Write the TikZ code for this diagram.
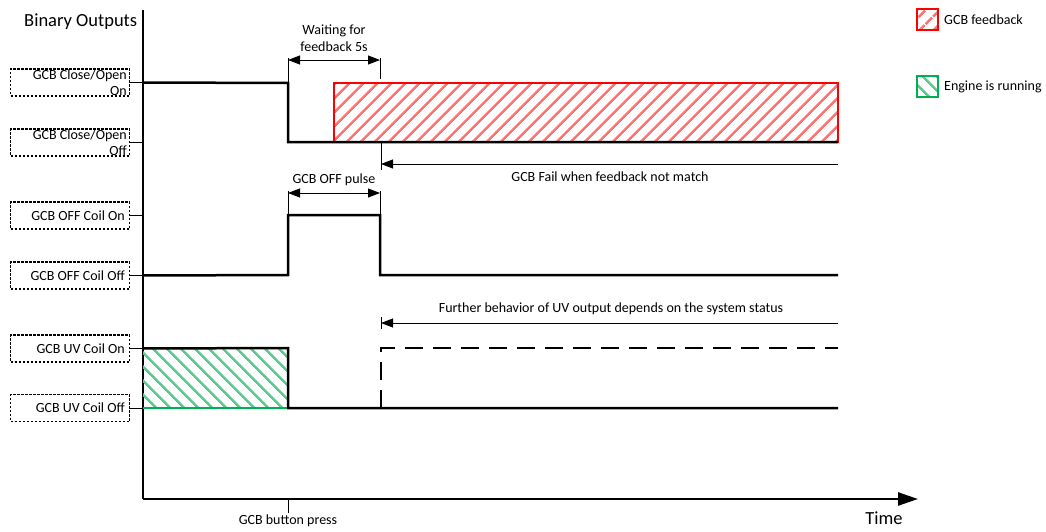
\documentclass[tikz,border=0pt]{standalone}
\usepackage{fontspec}
\setmainfont{Carlito}
\usetikzlibrary{arrows.meta,patterns.meta}
\definecolor{offgreen}{RGB}{0,176,80}
\begin{document}
\begin{tikzpicture}[x=1pt,y=-1pt,
 lblbox/.style={draw, dash pattern=on 2.5pt off 1.5pt, line width=1.3pt, minimum width=119pt, minimum height=27pt, inner sep=0pt, anchor=west},
 lbltext/.style={font=\fontsize{14}{16}\selectfont, align=right, anchor=east, inner sep=0pt},
 sig/.style={line width=2.5pt, line join=miter},
 dim/.style={line width=0.8pt},
 dimarr/.style={line width=0.8pt, {Triangle[length=12pt,width=9pt]}-{Triangle[length=12pt,width=9pt]}},
 txt/.style={font=\fontsize{14}{17}\selectfont, align=center, inner sep=0pt},
 bigtxt/.style={font=\fontsize{18.5}{20}\selectfont, inner sep=0pt},
 redhatch/.style={draw=red, line width=1.2pt, pattern={Lines[angle=45,distance=10.5pt,line width=2.6pt]}, pattern color=red!55},
 greenhatch/.style={pattern={Lines[angle=-45,distance=10.5pt,line width=2.6pt]}, pattern color=offgreen!65},
]
\useasboundingbox (0,0) rectangle (1046,532);

% axes
\coordinate (O) at (143,499);
\coordinate (Ytop) at (143,10);
\coordinate (Xend) at (918,499);
\draw[line width=2.3pt] (Ytop) -- (O);
\draw[line width=2.5pt, -{Triangle[length=20pt,width=13pt]}] (O) -- (Xend);
\node[bigtxt, anchor=west] (title) at (24,22) {Binary Outputs};
\node[bigtxt] (time) at (884,518) {Time};

% label boxes
\node[lblbox] (b1) at (10,82.5) {};
\node[lblbox] (b2) at (10,142.5) {};
\node[lblbox] (b3) at (10,215.5) {};
\node[lblbox] (b4) at (10,275.5) {};
\node[lblbox] (b5) at (10,348.5) {};
\node[lblbox] (b6) at (10,408) {};
\node[lbltext] (t1) at (127,83) {GCB Close/Open\\On};
\node[lbltext] (t2) at (127,143) {GCB Close/Open\\Off};
\node[lbltext] (t3) at (125,215.5) {GCB OFF Coil On};
\node[lbltext] (t4) at (125,275.5) {GCB OFF Coil Off};
\node[lbltext] (t5) at (125,348.5) {GCB UV Coil On};
\node[lbltext] (t6) at (125,408) {GCB UV Coil Off};
\foreach \b in {b1,b2,b3,b4,b5,b6}
  \draw[line width=1pt] (\b.east) -- (\b.east -| O);

% GCB Close/Open
\draw[redhatch] (334,83) rectangle (838,142);
\draw[sig] (b1.east -| O) -- (288,83) -- (288,142) -- (838,142);
\draw[dim] (288,58) -- (288,82);
\draw[dim] (380,58) -- (380,79);
\draw[dimarr] (288,60) -- (380,60);
\node[txt] (wait) at (334,38.5) {Waiting for\\feedback 5s};
\draw[dim] (381,143) -- (381,170);
\draw[dim, {Triangle[length=12pt,width=9pt]}-] (381,164) -- (838,164);
\node[txt] (fail) at (610,177) {GCB Fail when feedback not match};

% GCB OFF coil
\node[txt] (pulse) at (334,180) {GCB OFF pulse};
\draw[dim] (288,191) -- (288,214);
\draw[dim] (380,191) -- (380,214);
\draw[dimarr] (288,193) -- (380,193);
\draw[sig] (b4.east -| O) -- (288,275) -- (288,215) -- (380,215) -- (380,275) -- (838,275);

% GCB UV coil
\node[txt] (further) at (611,309) {Further behavior of UV output depends on the system status};
\draw[dim] (381,317) -- (381,329);
\draw[dim, {Triangle[length=12pt,width=9pt]}-] (381,323) -- (838,323);
\fill[greenhatch] (143,348) rectangle (288,408);
\draw[line width=2.5pt, offgreen] (143,408) -- (288,408);
\draw[sig] (b5.east -| O) -- (288,348) -- (288,408) -- (838,408);
\draw[line width=2.5pt, dash pattern=on 18pt off 10pt] (381,408) -- (381,348) -- (838,348);

% button press
\draw[line width=1pt] (288,499) -- (288,513);
\node[txt] (press) at (288,521) {GCB button press};

% legend
\draw[redhatch] (917,9) rectangle (938,30);
\node[txt, anchor=west] (lg1) at (944,19.5) {GCB feedback};
\draw[greenhatch, draw=offgreen, line width=1.2pt] (917,76) rectangle (938,97);
\node[txt, anchor=west] (lg2) at (944,86.5) {Engine is running};
\end{tikzpicture}
\end{document}
